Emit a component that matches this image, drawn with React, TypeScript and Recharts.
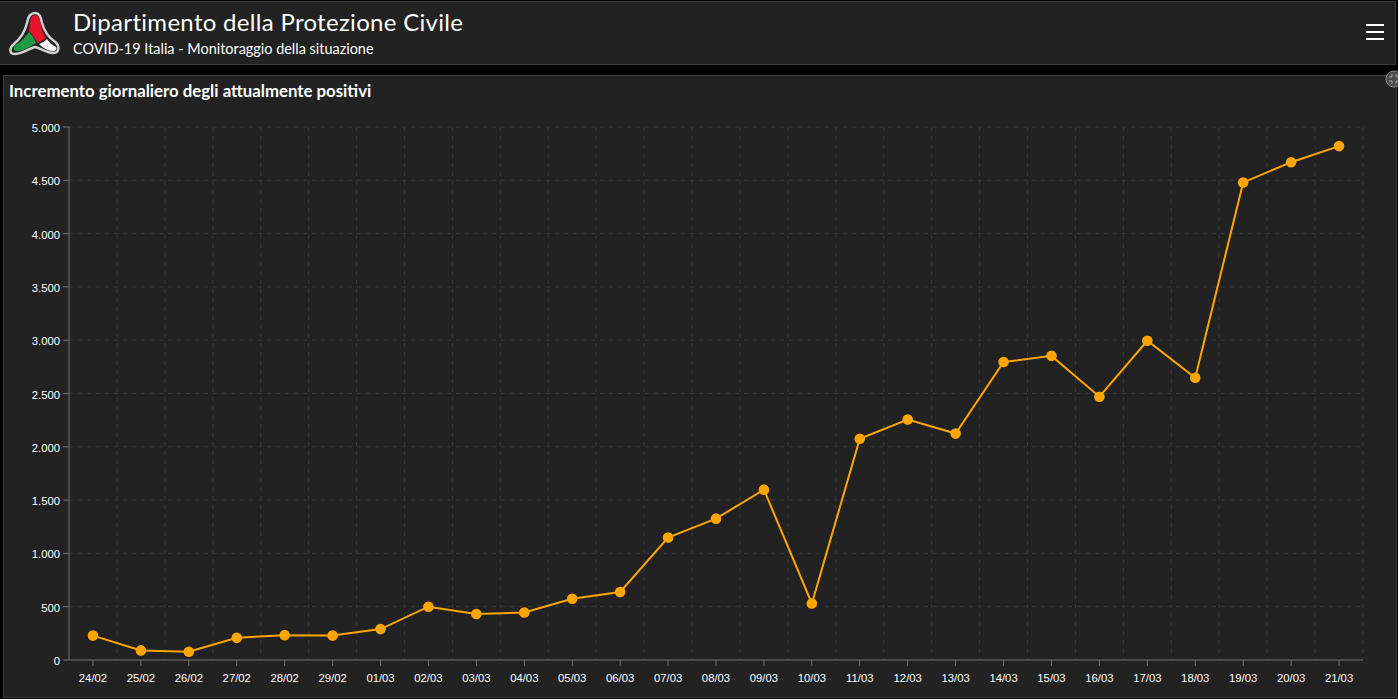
import React from "react";
import { LineChart, Line, XAxis, YAxis, CartesianGrid } from "recharts";

const days = ["24/02","25/02","26/02","27/02","28/02","29/02","01/03","02/03","03/03","04/03","05/03","06/03","07/03","08/03","09/03","10/03","11/03","12/03","13/03","14/03","15/03","16/03","17/03","18/03","19/03","20/03","21/03"];
const increments = [229,90,78,208,233,229,290,500,431,446,574,638,1149,1326,1598,530,2076,2256,2124,2795,2853,2470,2995,2648,4480,4670,4821];
const yTicks = [0,500,1000,1500,2000,2500,3000,3500,4000,4500,5000];
const rows = days.map((day, i) => ({ day, value: increments[i] }));
const fmt = (v: number) => (v === 0 ? "0" : v.toLocaleString("de-DE"));
const FONT = "Lato, 'Open Sans', sans-serif";
const TICK_FONT = "'Liberation Sans', Arial, sans-serif";

export default function App() {
  return (
    <div style={{ position: "absolute", left: 0, top: 0, width: 1398, height: 699, background: "#000", overflow: "hidden", fontFamily: FONT }}>
      <div style={{ position: "absolute", left: 0, top: 1, width: 1395, height: 62, background: "#222", border: "1px solid #3c3c3c", borderLeft: "none" }} />
      <svg style={{ position: "absolute", left: 8, top: 8 }} width="54" height="50" viewBox="0 0 54 50">
        <path d="M27 5 C32 5 33 10 34 15 C36 22 39 28 46 33 C52 37 52 45 45 45 C38 45 32 40 27 39 C20 41 13 46 7 46 C1 46 1 40 6 36 C13 30 17 24 19 15 C20 9 22 5 27 5 Z" fill="#222" stroke="#d0d0d0" strokeWidth="2.5" />
        <path d="M27 7 C31 7 31.5 12 33 17 C34 23 36 27 38 30 L30 35 C27 31 24 26 21 23 C22 15 22 7 27 7 Z" fill="#e8142c" />
        <path d="M21 24 C24 27 26 30 28 35 C22 39 13 44 8 43 C5 42 5 39 9 36 C14 33 18 28 21 24 Z" fill="#1f9a45" />
        <path d="M31 36 C34 35 37 33 39 31 C41 35 45 37 48 39 C50 42 46 44 43 43 C38 42 34 39 31 36 Z" fill="#f4f4f4" />
      </svg>
      <div style={{ position: "absolute", left: 73, top: 7, fontSize: 24, lineHeight: "30px", color: "#fff", whiteSpace: "nowrap", letterSpacing: 0.3 }}>Dipartimento della Protezione Civile</div>
      <div style={{ position: "absolute", left: 73, top: 40, fontSize: 14.45, lineHeight: "18px", color: "#fff", whiteSpace: "nowrap" }}>COVID-19 Italia - Monitoraggio della situazione</div>
      <div style={{ position: "absolute", left: 1366, top: 24, width: 18, height: 2, background: "#fff" }} />
      <div style={{ position: "absolute", left: 1366, top: 31, width: 18, height: 2, background: "#fff" }} />
      <div style={{ position: "absolute", left: 1366, top: 38, width: 18, height: 2, background: "#fff" }} />

      <div style={{ position: "absolute", left: 3, top: 75, width: 1392, height: 621, background: "#222", border: "1px solid #3c3c3c" }} />
      <div style={{ position: "absolute", left: 9, top: 81, fontSize: 16.8, lineHeight: "19px", fontWeight: 700, color: "#fff", whiteSpace: "nowrap" }}>Incremento giornaliero degli attualmente positivi</div>
      <svg style={{ position: "absolute", left: 1385, top: 70 }} width="18" height="18" viewBox="0 0 18 18">
        <circle cx="9" cy="9" r="8" fill="#4a4a4a" stroke="#8a8a8a" strokeWidth="1" />
        <path d="M7 4 V7 H4 M11 4 V7 H14 M7 14 V11 H4 M11 14 V11 H14" fill="none" stroke="#aaa" strokeWidth="1" />
      </svg>

      <div style={{ position: "absolute", left: 0, top: 0 }}>
        <LineChart width={1398} height={699} data={rows} margin={{ top: 127, right: 35, bottom: 9, left: 0 }}>
          <CartesianGrid
            stroke="#383838"
            strokeDasharray="4 5"
            verticalCoordinatesGenerator={({ offset }: any) =>
              Array.from({ length: days.length }, (_, i) => offset.left + ((i + 1) * offset.width) / days.length)
            }
            horizontalValues={yTicks.slice(1)}
          />
          <XAxis
            dataKey="day"
            scale="band"
            interval={0}
            height={30}
            tick={{ fill: "#fff", fontSize: 11.3, fontFamily: TICK_FONT, dy: 6 }}
            tickSize={6}
            stroke="#777"
          />
          <YAxis
            domain={[0, 5000]}
            ticks={yTicks}
            tickFormatter={fmt}
            width={69}
            tick={{ fill: "#fff", fontSize: 11.3, fontFamily: TICK_FONT, dx: -1, dy: 1 }}
            tickSize={6}
            stroke="#777"
          />
          <Line
            type="linear"
            dataKey="value"
            stroke="#ffa500"
            strokeWidth={2}
            dot={{ r: 5.3, fill: "#ffa500", stroke: "#ffa500", strokeWidth: 0 }}
            isAnimationActive={false}
          />
        </LineChart>
      </div>
    </div>
  );
}
